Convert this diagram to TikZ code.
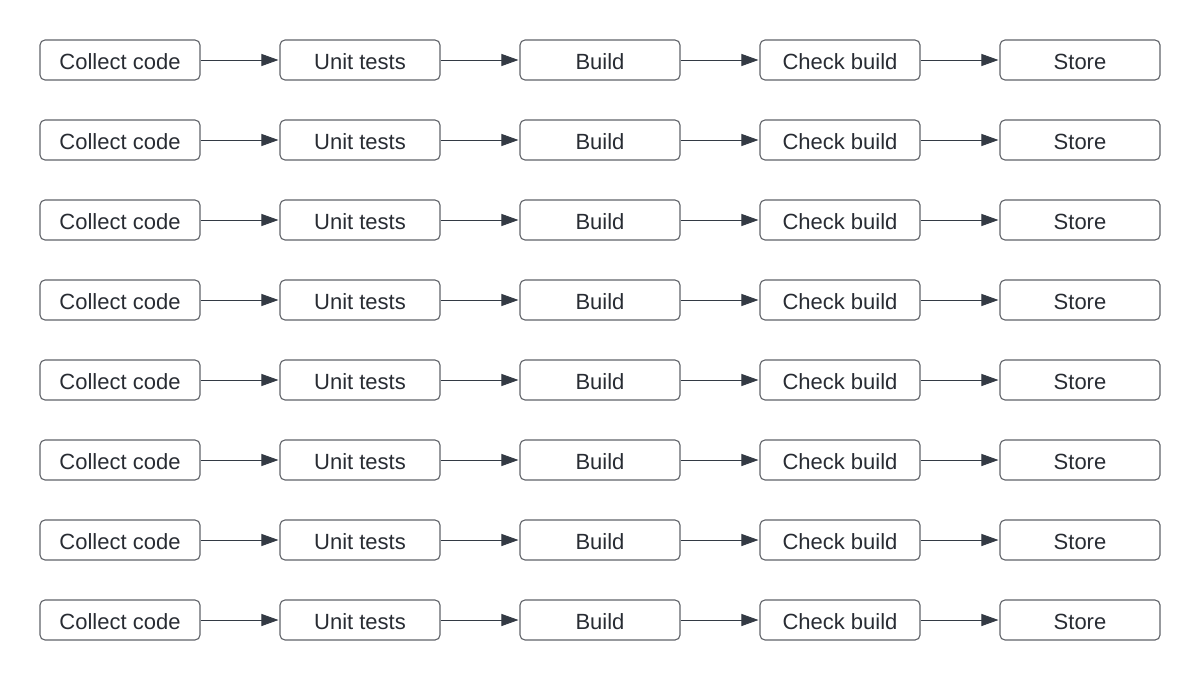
\documentclass[tikz,border=0pt]{standalone}
\usepackage{fontspec}
\setmainfont{Liberation Sans}
\usetikzlibrary{arrows.meta}
\definecolor{boxline}{HTML}{5F6268}
\definecolor{txt}{HTML}{282C33}
\definecolor{arr}{HTML}{333A44}
\tikzset{
  stage/.style={draw=boxline, line width=1.1pt, rounded corners=5pt, minimum width=160pt, minimum height=40pt, inner sep=0pt, text=txt, font=\fontsize{22pt}{24pt}\selectfont},
  lbl/.style={text=txt, font=\fontsize{22pt}{24pt}\selectfont, inner sep=0pt},
  flow/.style={draw=arr, line width=0.9pt, -{Triangle[length=17pt,width=12pt]}, shorten >=1pt}
}
\begin{document}
\begin{tikzpicture}[x=1pt,y=-1pt]
\useasboundingbox (0,0) rectangle (1200,680);
\foreach \r in {0,...,7}{
  \pgfmathsetmacro{\yy}{60+80*\r}
  \node[stage] (a\r) at (120,\yy) {};
  \node[stage] (b\r) at (360,\yy) {};
  \node[stage] (c\r) at (600,\yy) {};
  \node[stage] (d\r) at (840,\yy) {};
  \node[stage] (e\r) at (1080,\yy) {};
  \node[lbl] (ta\r) at ([yshift=-2pt]a\r.center) {Collect code};
  \node[lbl] (tb\r) at ([yshift=-2pt]b\r.center) {Unit tests};
  \node[lbl] (tc\r) at ([yshift=-2pt]c\r.center) {Build};
  \node[lbl] (td\r) at ([yshift=-2pt]d\r.center) {Check build};
  \node[lbl] (te\r) at ([yshift=-2pt]e\r.center) {Store};
  \draw[flow] (a\r) -- (b\r);
  \draw[flow] (b\r) -- (c\r);
  \draw[flow] (c\r) -- (d\r);
  \draw[flow] (d\r) -- (e\r);
}
\end{tikzpicture}
\end{document}
